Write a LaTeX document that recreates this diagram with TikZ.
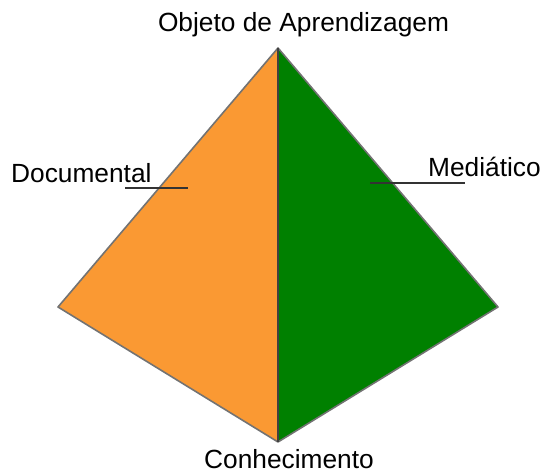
\documentclass[tikz,border=0pt]{standalone}
\usepackage{fontspec}
\setmainfont{Liberation Sans}
\usepackage{tikz}
\usetikzlibrary{positioning,calc}
\definecolor{docorange}{RGB}{250,153,51}
\definecolor{medgreen}{RGB}{0,128,0}
\begin{document}
\begin{tikzpicture}[x=1pt,y=-1pt,
  face/.style={draw=black!55,line width=1.6pt,line join=round},
  lbl/.style={inner sep=0pt,font=\fontsize{26.3}{31}\selectfont},
  leader/.style={draw=black!80,line width=1.2pt}]
\useasboundingbox (0,0) rectangle (546,473);
% corners of the pyramid
\coordinate (top) at (278,48);
\coordinate (lft) at (58,307);
\coordinate (rgt) at (498,307);
\coordinate (bot) at (278,442);
\fill[docorange] (top) -- (lft) -- (bot) -- cycle;
\fill[medgreen] (top) -- (rgt) -- (bot) -- cycle;
\draw[face] (top) -- (lft) -- (bot) -- (rgt) -- cycle;
\draw[draw=black!75,line width=1.4pt] (top) -- (bot);
% labels
\node[lbl,anchor=base] (obj) at (303.5,32) {Objeto de Aprendizagem};
\node[lbl,anchor=base] (con) at (289,468) {Conhecimento};
\node[lbl,anchor=base west] (doc) at (11,183) {Documental};
\node[lbl,anchor=base west] (med) at (428,177) {Mediático};
% leader lines
\coordinate (docA) at (125,188);
\coordinate (docB) at (188,188);
\coordinate (medA) at (370,183);
\coordinate (medB) at (465,183);
\draw[leader] (docA) -- (docB);
\draw[leader] (medA) -- (medB);
\end{tikzpicture}
\end{document}
